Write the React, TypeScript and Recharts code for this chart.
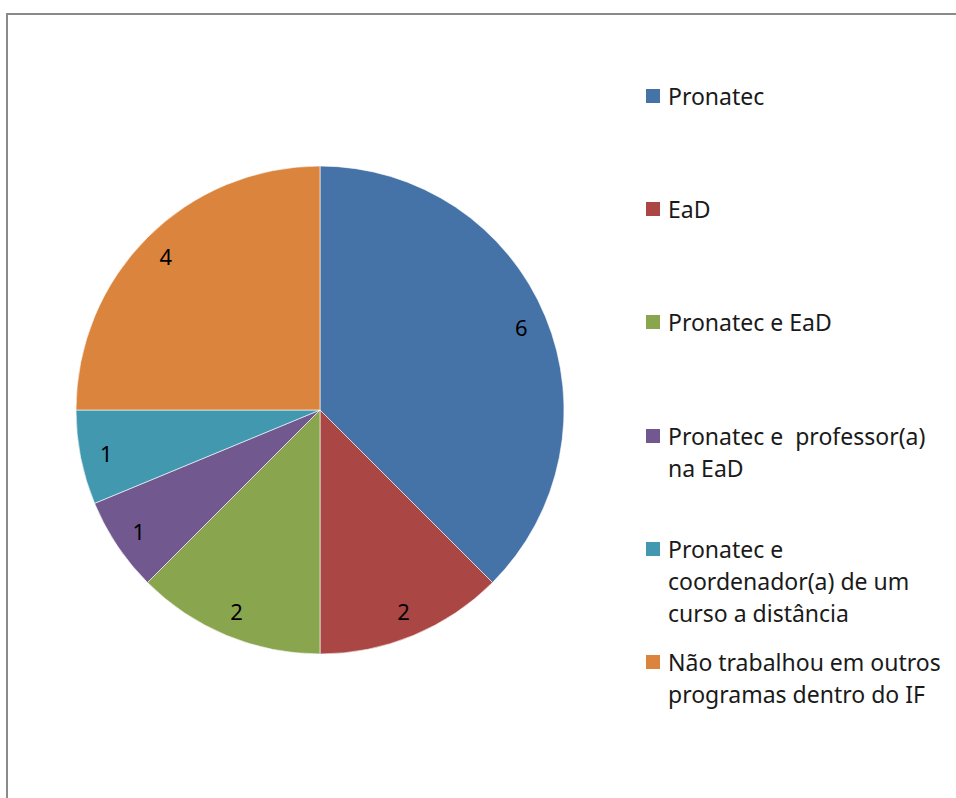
import { PieChart, Pie, Cell } from 'recharts';

const categories = [
  'Pronatec',
  'EaD',
  'Pronatec e EaD',
  'Pronatec e  professor(a)\nna EaD',
  'Pronatec e\ncoordenador(a) de um\ncurso a distância',
  'Não trabalhou em outros\nprogramas dentro do IF',
];
const counts = [6, 2, 2, 1, 1, 4];
const colors = ['#4572A7', '#AA4643', '#89A54E', '#71588F', '#4198AF', '#DB843D'];

const data = categories.map((name, i) => ({ name, value: counts[i] }));

const FONT = '"Noto Sans", "Open Sans", sans-serif';
const RADIAN = Math.PI / 180;

const renderLabel = ({ cx, cy, midAngle, value }: any) => {
  const r = 218;
  const x = cx + r * Math.cos(-midAngle * RADIAN);
  const y = cy + r * Math.sin(-midAngle * RADIAN);
  return (
    <text x={x} y={y} textAnchor="middle" dominantBaseline="central" fill="#000" fontSize={22} fontFamily={FONT}>
      {value}
    </text>
  );
};

function ChartLegend() {
  return (
    <div style={{ position: 'absolute', left: 638, top: 0, width: 310, height: 700, fontFamily: FONT, fontSize: 23, color: '#1a1a1a' }}>
      {data.map((d, i) => (
        <div key={d.name} style={{ position: 'absolute', left: 0, top: 65 + i * 113.2, display: 'flex', alignItems: 'flex-start' }}>
          <span style={{ display: 'inline-block', flex: 'none', width: 14, height: 14, marginTop: 9, marginRight: 8, background: colors[i] }} />
          <span style={{ whiteSpace: 'pre', lineHeight: '32px' }}>{d.name}</span>
        </div>
      ))}
    </div>
  );
}

export default function App() {
  return (
    <div
      style={{
        position: 'fixed', left: 6, top: 13, width: 950, height: 785,
        borderTop: '2px solid #8a8a8a', borderLeft: '2px solid #8a8a8a',
        boxSizing: 'border-box', background: '#fff',
      }}
    >
      <PieChart width={630} height={783} margin={{ top: 0, right: 0, bottom: 0, left: 0 }}>
        <Pie
          data={data}
          dataKey="value"
          nameKey="name"
          cx={312}
          cy={395}
          outerRadius={244}
          startAngle={90}
          endAngle={-270}
          label={renderLabel}
          labelLine={false}
          stroke="#ffffff"
          strokeWidth={0.6}
          isAnimationActive={false}
        >
          {data.map((d, i) => (
            <Cell key={d.name} fill={colors[i]} />
          ))}
        </Pie>
      </PieChart>
      <ChartLegend />
    </div>
  );
}
